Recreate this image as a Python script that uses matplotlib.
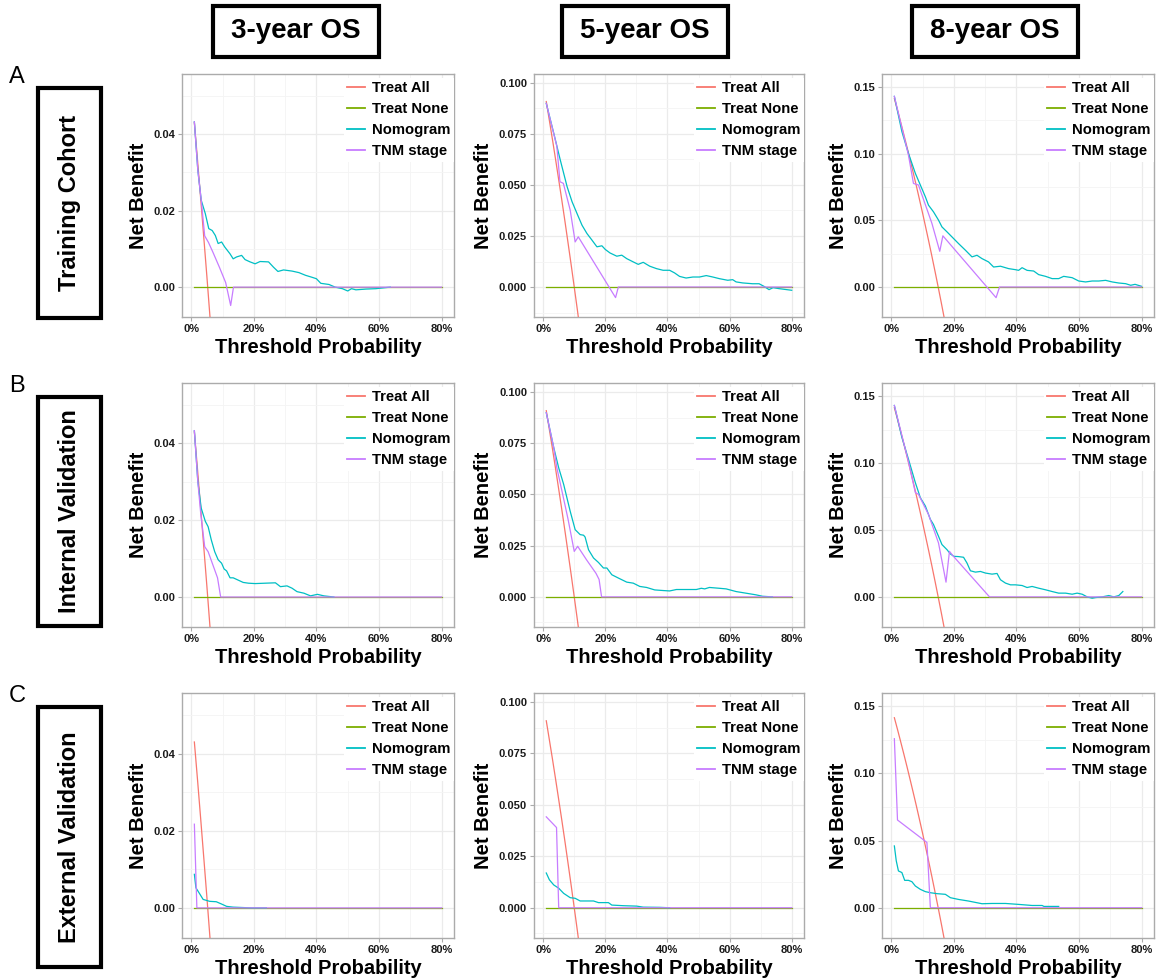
"""Decision curve panels: 3/5/8-year OS for training, internal and external cohorts."""

import matplotlib
import matplotlib.pyplot as plt
from matplotlib.patches import Rectangle
from matplotlib.ticker import MultipleLocator, FormatStrFormatter, FuncFormatter

matplotlib.use("Agg")

plt.rcParams["font.family"] = ["Liberation Sans", "DejaVu Sans"]

# ── labels ─────────────────────────────────────────────────────────
COL_TITLES = ["3-year OS", "5-year OS", "8-year OS"]
ROW_TITLES = ["Training Cohort", "Internal Validation", "External Validation"]
ROW_LETTERS = ["A", "B", "C"]
SERIES = ["Treat All", "Treat None", "Nomogram", "TNM stage"]
COLORS = ["#F8766D", "#7CAE00", "#00BFC4", "#C77CFF"]

# ── reference strategies (threshold in %, net benefit) ─────────────
NONE_T = [1, 80]
NONE_NB = [0.0, 0.0]

ALL_3Y_T = [1, 2, 3, 4, 5, 6, 7]
ALL_3Y_NB = [0.0430, 0.0333, 0.0233, 0.0131, 0.0028, -0.0079, -0.0187]
ALL_5Y_T = [1, 2, 3, 4, 5, 6, 7, 8, 9, 10, 11, 12]
ALL_5Y_NB = [0.0909, 0.0816, 0.0722, 0.0625, 0.0526, 0.0426, 0.0323, 0.0217,
             0.0110, 0.0, -0.0111, -0.0227]
ALL_8Y_T = [1, 2, 3, 4, 5, 6, 7, 8, 9, 10, 11, 12, 13, 14, 15, 16, 17, 18]
ALL_8Y_NB = [0.1414, 0.1327, 0.1237, 0.1146, 0.1053, 0.0957, 0.0860, 0.0761,
             0.0659, 0.0556, 0.0449, 0.0341, 0.0230, 0.0116, 0.0, -0.0119,
             -0.0241, -0.0366]

# ── training cohort ────────────────────────────────────────────────
NOMO_A1_T = [1, 2.1, 3.2, 4.5, 5.6, 6.7, 7.7, 8.6, 9.7, 10.7, 12.4, 13.4, 14.5,
             16.1, 17.2, 18.8, 20.4, 22, 24.7, 26.3, 27.7, 29.5, 32.2, 34.4,
             36.5, 38.5, 40, 41.4, 44, 46, 48.3, 50, 51.2, 52.6, 55.9, 59,
             61.2, 63.6]
NOMO_A1_NB = [0.0432, 0.0306, 0.0227, 0.0192, 0.0153, 0.0148, 0.0135, 0.0114,
              0.0118, 0.0105, 0.0087, 0.0074, 0.0079, 0.0083, 0.0072, 0.0066,
              0.0061, 0.0067, 0.0066, 0.0052, 0.0041, 0.0045, 0.0042, 0.0038,
              0.0031, 0.0026, 0.0022, 0.0010, 0.0007, 0.0, -0.0004, -0.0010,
              -0.0004, -0.0007, -0.0005, -0.0004, -0.0002, 0.0]
TNM_A1_T = [1, 2.1, 3.2, 4.3, 5.5, 7, 9, 11, 12.6, 13.5, 80]
TNM_A1_NB = [0.0432, 0.0306, 0.0227, 0.0134, 0.0117, 0.0090, 0.0052, 0.0012,
             -0.0048, 0.0, 0.0]

NOMO_A2_T = [1, 3.4, 5.5, 7.7, 9.3, 10.9, 12.5, 14.1, 15.7, 17.3, 18.9, 20,
             21.5, 23.7, 25.3, 26.9, 29, 30.6, 32.2, 34.3, 36.5, 38.6, 40.7,
             42.3, 43.9, 46, 48.2, 50.3, 52.5, 54.6, 56.7, 59.4, 61, 62.1,
             64.2, 67.4, 69.5, 71.1, 72.7, 74, 75.9, 80]
NOMO_A2_NB = [0.090, 0.0754, 0.0623, 0.0492, 0.0418, 0.036, 0.0303, 0.0262,
              0.023, 0.0197, 0.0202, 0.0184, 0.0167, 0.0151, 0.0156, 0.0139,
              0.0123, 0.0111, 0.0121, 0.0102, 0.009, 0.0082, 0.0082, 0.0069,
              0.0052, 0.0044, 0.0049, 0.0049, 0.0056, 0.0049, 0.0041, 0.0033,
              0.0036, 0.0025, 0.002, 0.0016, 0.0016, 0.0003, -0.0013, -0.0003,
              -0.0008, -0.0016]
TNM_A2_T = [1, 4.4, 5.4, 6.5, 8.7, 10.3, 11.3, 23.3, 24.2, 80]
TNM_A2_NB = [0.090, 0.069, 0.0516, 0.0508, 0.0377, 0.0221, 0.0246, -0.0052,
             0.0, 0.0]

NOMO_A3_T = [1, 3.4, 5.5, 7.7, 9.3, 10.9, 11.9, 13.5, 15.1, 16.2, 17.8, 19.4,
             21.5, 23.7, 25.8, 27.4, 29, 31.1, 32.7, 34.9, 37.5, 39.7, 40.7,
             41.8, 43.4, 45.5, 47.1, 49.3, 51.4, 53.5, 55.1, 57.8, 59.9, 62.1,
             64.2, 66.3, 68.5, 70.6, 72.7, 74.9, 76.5, 77.9, 80]
NOMO_A3_NB = [0.143, 0.1166, 0.1003, 0.0853, 0.0765, 0.0677, 0.0614, 0.0564,
              0.0502, 0.0451, 0.0414, 0.0376, 0.0326, 0.0276, 0.0226, 0.0238,
              0.0213, 0.0188, 0.015, 0.0156, 0.0138, 0.013, 0.0125, 0.0145,
              0.0125, 0.012, 0.0093, 0.008, 0.0063, 0.0063, 0.008, 0.007,
              0.0045, 0.0038, 0.0045, 0.0045, 0.005, 0.0038, 0.003, 0.0025,
              0.0013, 0.002, 0.0005]
TNM_A3_T = [1, 5.5, 7.1, 8.7, 13, 15.5, 16.5, 33.5, 34.6, 80]
TNM_A3_NB = [0.143, 0.099, 0.0777, 0.0765, 0.0477, 0.0268, 0.0384, -0.008,
             0.0, 0.0]

# ── internal validation ────────────────────────────────────────────
NOMO_B1_T = [1, 2.1, 3.2, 4.5, 5.4, 6.4, 7.5, 8.6, 9.7, 10.5, 11.3, 12.4, 13.4,
             15, 16.6, 18.3, 20.4, 23.6, 26.9, 28.5, 30.6, 32.2, 33.8, 36,
             38.1, 40.3, 42.4, 45.6]
NOMO_B1_NB = [0.0433, 0.0301, 0.0231, 0.0197, 0.0183, 0.0149, 0.0118, 0.0097,
              0.0088, 0.0073, 0.0068, 0.005, 0.005, 0.0044, 0.0038, 0.0036,
              0.0035, 0.0036, 0.0037, 0.0027, 0.0029, 0.0023, 0.0014, 0.001,
              0.0003, 0.0007, 0.0003, 0.0]
TNM_B1_T = [1, 2.1, 3, 4.3, 5.4, 8.4, 9.4, 80]
TNM_B1_NB = [0.0433, 0.0301, 0.022, 0.0131, 0.0118, 0.005, 0.0, 0.0]

NOMO_B2_T = [1, 3.4, 5, 6.6, 8.7, 10.3, 11.9, 13, 13.5, 14.6, 16.2, 17.8, 19.4,
             20.5, 22.1, 24.2, 26.9, 29, 31.1, 33.3, 35.9, 38.6, 40.7, 42.9,
             46.1, 49.3, 50.9, 52, 53.5, 56.7, 58.9, 62.1, 65.3, 68.5, 70.6,
             73.8]
NOMO_B2_NB = [0.0899, 0.0729, 0.063, 0.0549, 0.0418, 0.0328, 0.0304, 0.0301,
              0.0292, 0.023, 0.019, 0.0168, 0.0141, 0.0141, 0.0108, 0.0092,
              0.0072, 0.0067, 0.0051, 0.0046, 0.0034, 0.0031, 0.0029, 0.0036,
              0.0036, 0.0036, 0.0042, 0.0039, 0.0046, 0.0042, 0.0039, 0.0026,
              0.0018, 0.001, 0.0003, 0.0]
TNM_B2_T = [1, 3.4, 4.4, 6, 8, 10, 11.1, 14, 17, 18, 18.8, 80]
TNM_B2_NB = [0.0899, 0.0729, 0.063, 0.052, 0.038, 0.0222, 0.0247, 0.018,
             0.0115, 0.0085, 0.0, 0.0]

NOMO_B3_T = [1, 3.4, 5.5, 7.7, 9.3, 10.9, 12.5, 13.5, 15.1, 16.2, 17.8, 18.9,
             20, 21.5, 23.1, 24.2, 25.3, 26.9, 28.5, 30.1, 32.2, 33.8, 34.9,
             36.5, 38.1, 39.7, 41.8, 43.4, 45, 47.1, 49.3, 51.4, 53.5, 55.7,
             57.8, 59.4, 61, 62.6, 64.2, 65.3, 67.4, 69.5, 71.1, 72.7, 74]
NOMO_B3_NB = [0.143, 0.1192, 0.1029, 0.0854, 0.0741, 0.0679, 0.0579, 0.0541,
              0.0453, 0.0391, 0.0353, 0.0321, 0.0303, 0.0301, 0.0296, 0.0253,
              0.0195, 0.0185, 0.019, 0.0178, 0.017, 0.0175, 0.0128, 0.0103,
              0.009, 0.009, 0.0085, 0.007, 0.0078, 0.0065, 0.0053, 0.004,
              0.0028, 0.0028, 0.002, 0.0028, 0.002, 0.0, -0.001, -0.0005, 0.0,
              0.001, 0.0, 0.001, 0.004]
TNM_B3_T = [1, 5.5, 7.7, 8.7, 11.9, 15.1, 17.5, 18.6, 20, 31.4, 80]
TNM_B3_NB = [0.143, 0.101, 0.0779, 0.0766, 0.0616, 0.0403, 0.011, 0.034,
             0.030, 0.0, 0.0]

# ── external validation ────────────────────────────────────────────
NOMO_C1_T = [1, 1.5, 2.2, 3.8, 5.9, 8, 9.7, 11.3, 13.4, 19.3, 24]
NOMO_C1_NB = [0.0087, 0.0052, 0.0043, 0.0022, 0.0017, 0.0016, 0.001, 0.0004,
              0.0002, 0.0, 0.0]
TNM_C1_T = [1, 1.8, 80]
TNM_C1_NB = [0.0217, 0.0, 0.0]

NOMO_C2_T = [1, 2, 3.4, 5, 6.6, 8.7, 10.3, 11.9, 14.1, 16.2, 17.8, 21, 22.1,
             25.8, 30.1, 32.2, 37.5, 40.7]
NOMO_C2_NB = [0.0169, 0.0136, 0.0111, 0.0095, 0.007, 0.0049, 0.0046, 0.0033,
              0.0033, 0.0033, 0.0025, 0.0025, 0.0013, 0.001, 0.0008, 0.0003,
              0.0002, 0.0]
TNM_C2_T = [1, 4.3, 5, 80]
TNM_C2_NB = [0.0442, 0.039, 0.0, 0.0]

NOMO_C3_T = [1, 1.6, 2.3, 3.4, 4.3, 5.5, 6.6, 7.7, 9.3, 10.9, 12.5, 14.6,
             17.3, 18.9, 21.5, 24.7, 29, 32.2, 36.5, 40.7, 45, 48.2, 48.8, 53.5]
NOMO_C3_NB = [0.046, 0.035, 0.0274, 0.0262, 0.0204, 0.0204, 0.0194, 0.0162,
              0.0137, 0.012, 0.0112, 0.0105, 0.01, 0.0075, 0.0062, 0.005,
              0.003, 0.0032, 0.0032, 0.0025, 0.0017, 0.0017, 0.001, 0.001]
TNM_C3_T = [1, 2, 11.4, 12.5, 80]
TNM_C3_NB = [0.1258, 0.0653, 0.0486, 0.0, 0.0]

# per-column treat-all curves and y settings
ALL_CURVES = [(ALL_3Y_T, ALL_3Y_NB), (ALL_5Y_T, ALL_5Y_NB), (ALL_8Y_T, ALL_8Y_NB)]
Y_LIMS = [(-0.0078, 0.0557), (-0.0147, 0.1044), (-0.0225, 0.1598)]
Y_MAJOR = [0.02, 0.025, 0.05]
Y_FMT = ["%.2f", "%.3f", "%.2f"]

MODEL_CURVES = [
    [(NOMO_A1_T, NOMO_A1_NB, TNM_A1_T, TNM_A1_NB),
     (NOMO_A2_T, NOMO_A2_NB, TNM_A2_T, TNM_A2_NB),
     (NOMO_A3_T, NOMO_A3_NB, TNM_A3_T, TNM_A3_NB)],
    [(NOMO_B1_T, NOMO_B1_NB, TNM_B1_T, TNM_B1_NB),
     (NOMO_B2_T, NOMO_B2_NB, TNM_B2_T, TNM_B2_NB),
     (NOMO_B3_T, NOMO_B3_NB, TNM_B3_T, TNM_B3_NB)],
    [(NOMO_C1_T, NOMO_C1_NB, TNM_C1_T, TNM_C1_NB),
     (NOMO_C2_T, NOMO_C2_NB, TNM_C2_T, TNM_C2_NB),
     (NOMO_C3_T, NOMO_C3_NB, TNM_C3_T, TNM_C3_NB)],
]

# ── layout (pixels) ────────────────────────────────────────────────
W, H = 1157, 980
COL_X = [(182, 454), (534, 804), (882, 1154)]
ROW_Y = [(74, 317), (383, 627), (693, 938)]
TITLE_CX = [296, 645, 995]
ROW_BOX_Y = [(88, 318), (397, 626), (707, 967)]


def pct(vals):
    return [v / 100 for v in vals]


def fig_rect(x0, y0, x1, y1):
    """pixel box (top-left origin) -> figure fraction [l, b, w, h]"""
    return [x0 / W, 1 - y1 / H, (x1 - x0) / W, (y1 - y0) / H]


fig = plt.figure(figsize=(W / 100, H / 100), dpi=100)
fig.patch.set_facecolor("white")

for r in range(3):
    for c in range(3):
        ax = fig.add_axes(fig_rect(COL_X[c][0], ROW_Y[r][0], COL_X[c][1], ROW_Y[r][1]))
        nomo_t, nomo_nb, tnm_t, tnm_nb = MODEL_CURVES[r][c]
        all_t, all_nb = ALL_CURVES[c]

        ax.plot(pct(all_t), all_nb, color=COLORS[0], lw=0.9, label=SERIES[0], zorder=3)
        ax.plot(pct(NONE_T), NONE_NB, color=COLORS[1], lw=0.9, label=SERIES[1], zorder=4)
        ax.plot(pct(nomo_t), nomo_nb, color=COLORS[2], lw=0.9, label=SERIES[2], zorder=5)
        ax.plot(pct(tnm_t), tnm_nb, color=COLORS[3], lw=0.9, label=SERIES[3], zorder=6)

        ax.set_xlim(-0.0295, 0.8395)
        ax.set_ylim(*Y_LIMS[c])
        ax.xaxis.set_major_locator(MultipleLocator(0.2))
        ax.xaxis.set_minor_locator(MultipleLocator(0.1))
        ax.xaxis.set_major_formatter(FuncFormatter(lambda v, _: f"{v * 100:.0f}%"))
        ax.yaxis.set_major_locator(MultipleLocator(Y_MAJOR[c]))
        ax.yaxis.set_minor_locator(MultipleLocator(Y_MAJOR[c] / 2))
        ax.yaxis.set_major_formatter(FormatStrFormatter(Y_FMT[c]))

        ax.grid(which="major", color="#EBEBEB", lw=0.9, zorder=0)
        ax.grid(which="minor", color="#F4F4F4", lw=0.6, zorder=0)
        ax.set_axisbelow(True)
        for sp in ax.spines.values():
            sp.set_color("#ABABAB")
            sp.set_linewidth(1.0)
        ax.tick_params(which="major", length=3, width=0.8, color="#ABABAB",
                       labelsize=8, pad=2)
        ax.tick_params(which="minor", length=0)
        for lab in ax.get_xticklabels() + ax.get_yticklabels():
            lab.set_fontweight("bold")
            lab.set_color("#1A1A1A")

        ax.set_xlabel("Threshold Probability", fontsize=14.5, fontweight="bold", labelpad=3)
        ax.set_ylabel("Net Benefit", fontsize=14.5, fontweight="bold", labelpad=4)

        leg = ax.legend(loc="upper right", bbox_to_anchor=(1, 0.985), borderaxespad=0,
                        borderpad=0.25, fontsize=10.7, handlelength=1.2,
                        handletextpad=0.45, labelspacing=0.47, frameon=True,
                        fancybox=False, framealpha=1)
        leg.get_frame().set_edgecolor("none")
        leg.get_frame().set_facecolor("white")
        leg.set_zorder(10)
        for txt in leg.get_texts():
            txt.set_fontweight("bold")
        for hl in leg.get_lines():
            hl.set_linewidth(1.3)

# column titles in boxes
for c, title in enumerate(COL_TITLES):
    cx = TITLE_CX[c]
    fig.patches.append(Rectangle(((cx - 83) / W, 1 - 57 / H), 166 / W, 51 / H,
                                 transform=fig.transFigure, facecolor="white",
                                 edgecolor="black", lw=3))
    fig.text(cx / W, 1 - 31.5 / H, title, ha="center", va="center",
             fontsize=20, fontweight="bold")

# row titles in boxes + panel letters
for r, title in enumerate(ROW_TITLES):
    y0, y1 = ROW_BOX_Y[r]
    fig.patches.append(Rectangle((38 / W, 1 - y1 / H), 63 / W, (y1 - y0) / H,
                                 transform=fig.transFigure, facecolor="white",
                                 edgecolor="black", lw=3))
    fig.text(69.5 / W, 1 - (y0 + y1) / 2 / H, title, ha="center", va="center",
             rotation=90, fontsize=17, fontweight="bold")
    fig.text(17 / W, 1 - (ROW_Y[r][0] + 3) / H, ROW_LETTERS[r], ha="center",
             va="center", fontsize=17)

fig.savefig("out.png", dpi=100, facecolor="white")
plt.close(fig)
